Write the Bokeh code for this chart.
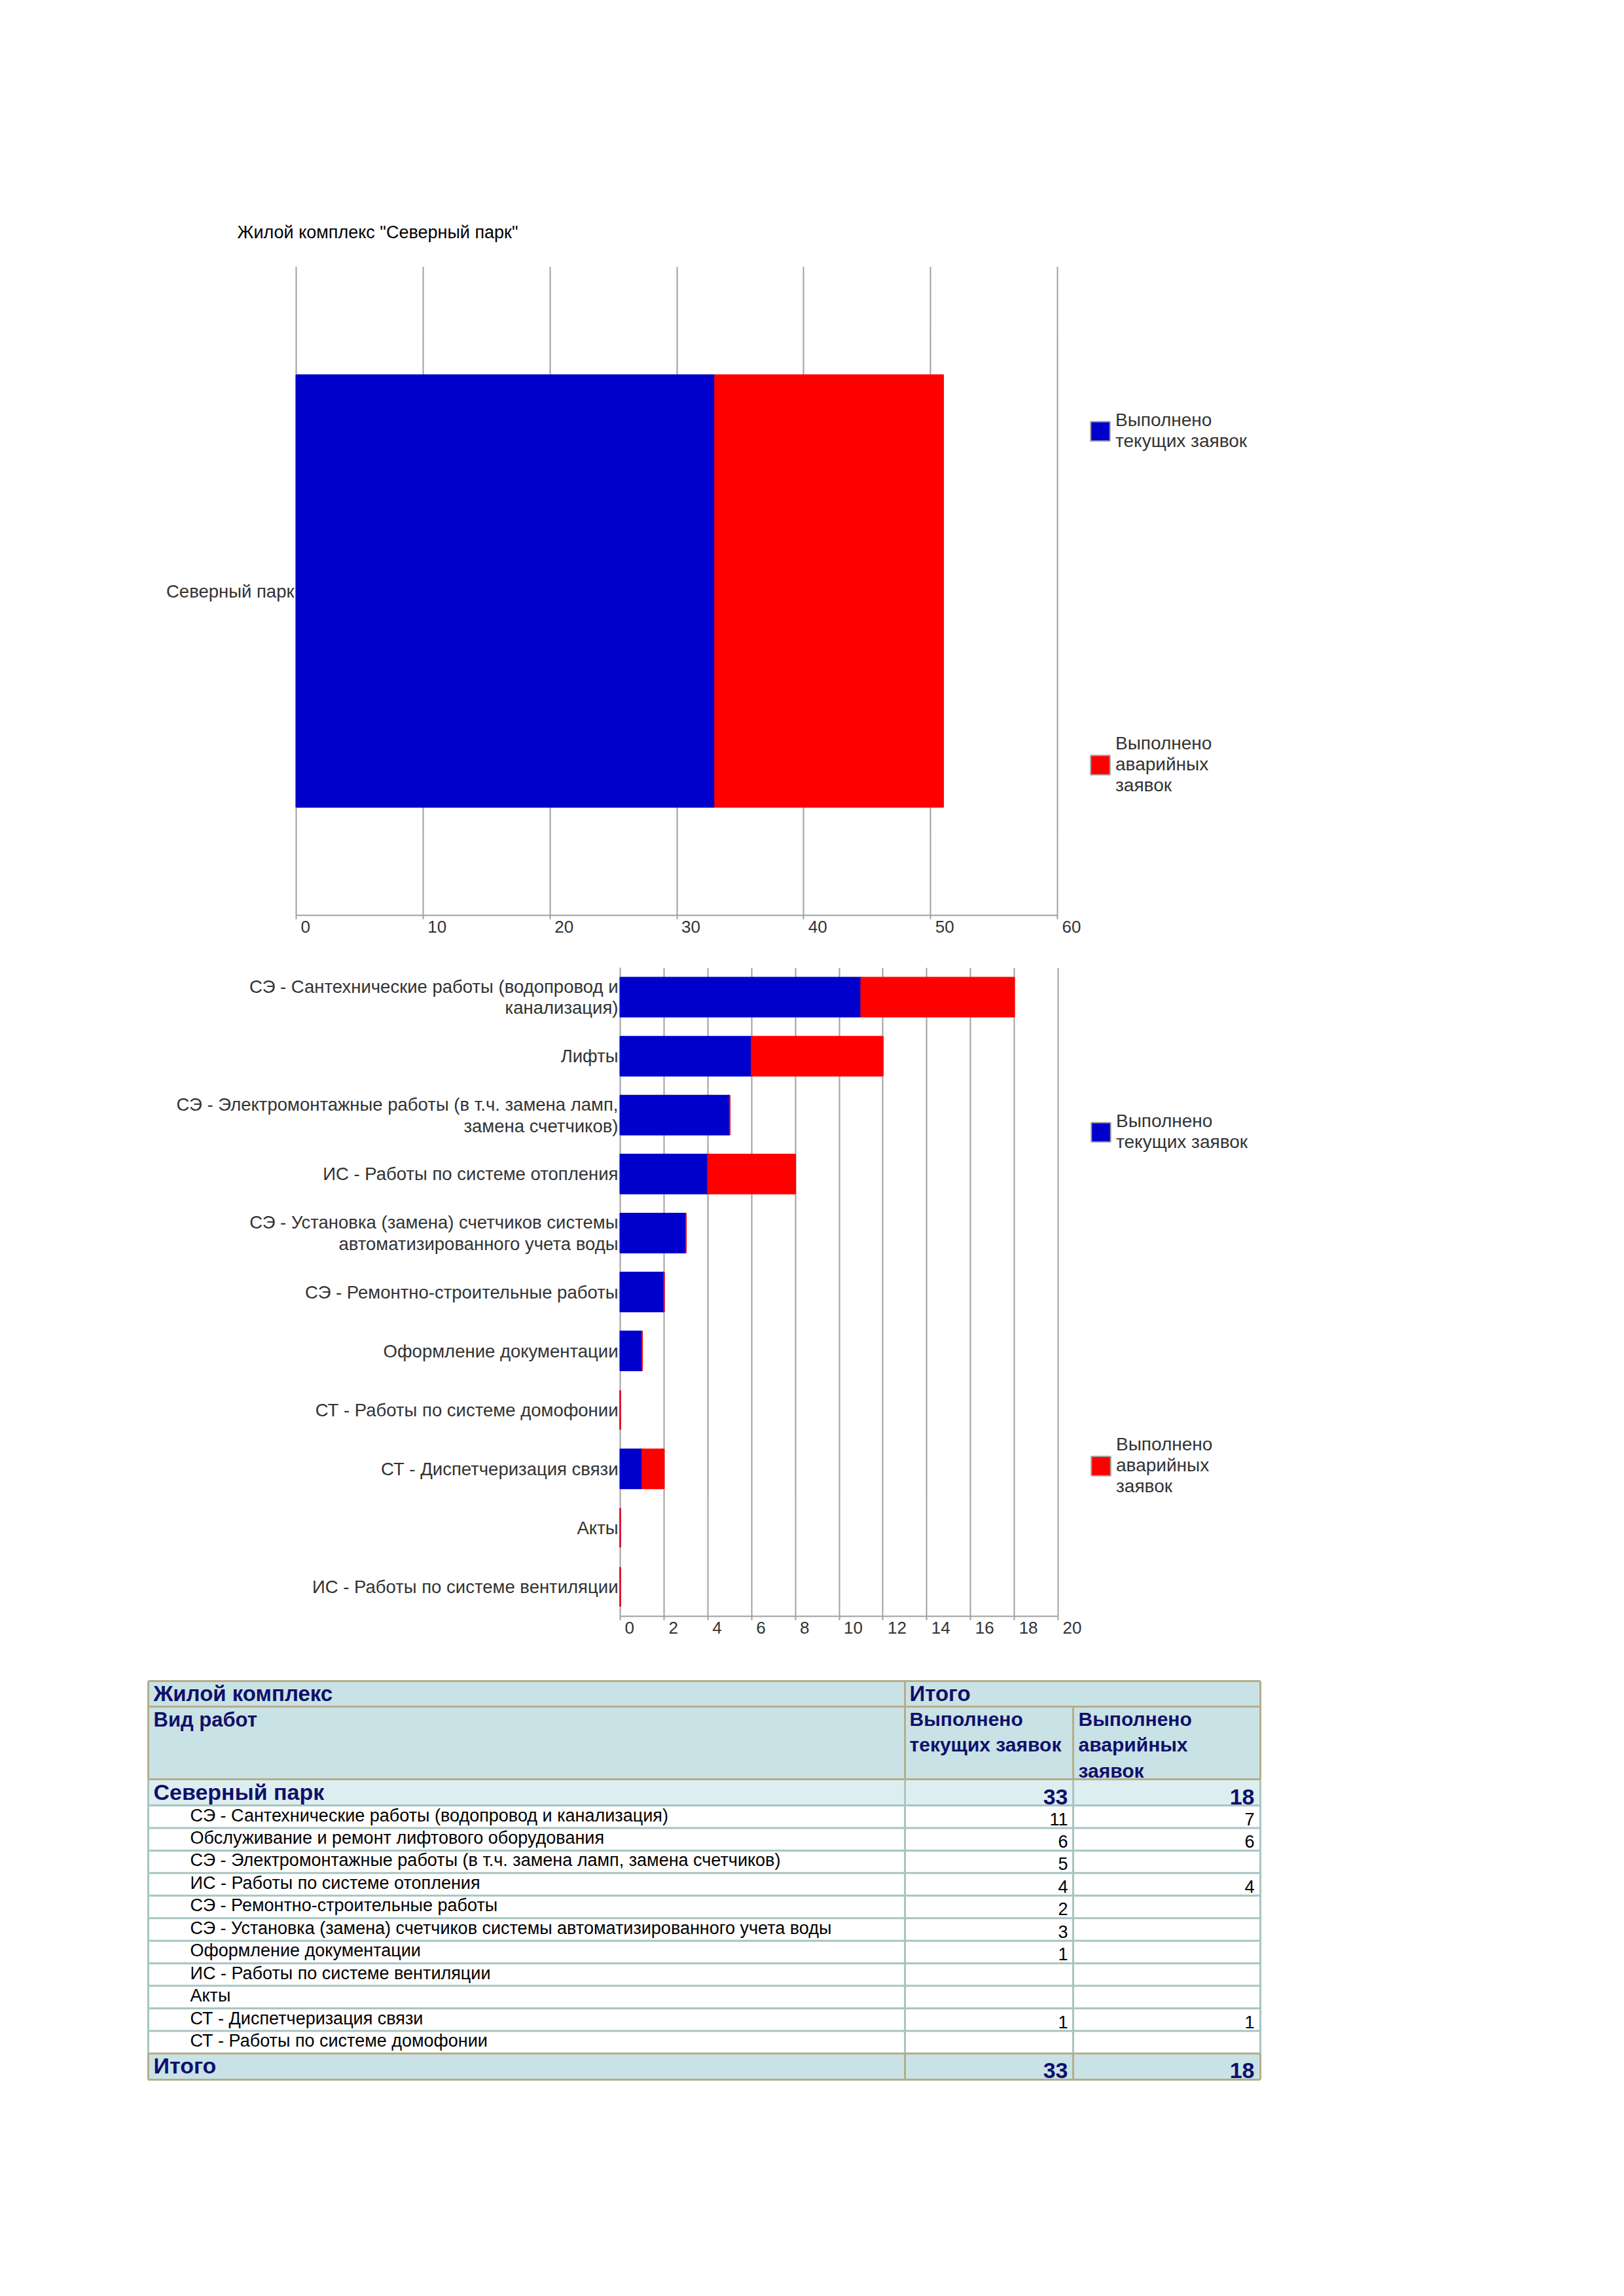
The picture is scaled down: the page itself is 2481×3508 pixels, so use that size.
from bokeh.plotting import figure
from bokeh.models import (FactorRange, Range1d, FixedTicker, LinearAxis, Legend, LegendItem)
from bokeh.embed import file_html
from bokeh.resources import INLINE
from bokeh.core.properties import value

# ---------------- data ----------------
chart_title = 'Жилой комплекс "Северный парк"'
series_names = ["Выполнено\nтекущих заявок", "Выполнено\nаварийных\nзаявок"]

complex_names = ["Северный парк"]
complex_current = [33]
complex_emergency = [18]
complex_ticks = [0, 10, 20, 30, 40, 50, 60]

work_types = [
    "СЭ - Сантехнические работы (водопровод и\nканализация)",
    "Лифты",
    "СЭ - Электромонтажные работы (в т.ч. замена ламп,\nзамена счетчиков)",
    "ИС - Работы по системе отопления",
    "СЭ - Установка (замена) счетчиков системы\nавтоматизированного учета воды",
    "СЭ - Ремонтно-строительные работы",
    "Оформление документации",
    "СТ - Работы по системе домофонии",
    "СТ - Диспетчеризация связи",
    "Акты",
    "ИС - Работы по системе вентиляции",
]
work_current = [11, 6, 5, 4, 3, 2, 1, 0, 1, 0, 0]
work_emergency = [7, 6, 0, 4, 0, 0, 0, 0, 1, 0, 0]
work_ticks = [0, 2, 4, 6, 8, 10, 12, 14, 16, 18, 20]

table_head_1 = ["Жилой комплекс", "Итого"]
table_head_2 = ["Вид работ", ["Выполнено", "текущих заявок"], ["Выполнено", "аварийных", "заявок"]]
table_group = "Северный парк"
table_total_label = "Итого"
table_rows = [
    "СЭ - Сантехнические работы (водопровод и канализация)",
    "Обслуживание и ремонт лифтового оборудования",
    "СЭ - Электромонтажные работы (в т.ч. замена ламп, замена счетчиков)",
    "ИС - Работы по системе отопления",
    "СЭ - Ремонтно-строительные работы",
    "СЭ - Установка (замена) счетчиков системы автоматизированного учета воды",
    "Оформление документации",
    "ИС - Работы по системе вентиляции",
    "Акты",
    "СТ - Диспетчеризация связи",
    "СТ - Работы по системе домофонии",
]
table_current = [11, 6, 5, 4, 2, 3, 1, None, None, 1, None]
table_emergency = [7, 6, None, 4, None, None, None, None, None, 1, None]

# ---------------- style ----------------
FONT = "Liberation Sans"
BLUE = "#0000CC"
RED = "#FF0000"
GRAY = "#A0A0A0"
TXT = "#333333"
NAVY = "#10106B"
HEAD_BG = "#C9E2E5"
GROUP_BG = "#DDEEF0"
TAN = "#B5AD88"
GRID = "#A7C5C1"
W = 2200


def make_chart(cats, cur, emg, ticks, plot_w, frame_h, b_left, b_top, b_bottom, title=None):
    xmax = ticks[-1]
    fw = W - b_left                      # frame also holds the legend area on the right
    px_per_unit = plot_w / xmax
    p = figure(y_range=FactorRange(factors=list(reversed(cats))),
               x_range=Range1d(0, fw / px_per_unit),
               frame_width=fw, frame_height=frame_h,
               min_border_left=b_left, min_border_right=0,
               min_border_top=b_top, min_border_bottom=b_bottom,
               toolbar_location=None, output_backend="svg", outline_line_color=None)
    p.ygrid.visible = False
    p.xgrid.ticker = FixedTicker(ticks=ticks)
    p.xgrid.grid_line_color = GRAY
    p.xgrid.grid_line_width = 2

    ax = p.xaxis[0]
    ax.ticker = FixedTicker(ticks=ticks)
    ax.bounds = (0, xmax)
    ax.axis_line_color = GRAY
    ax.axis_line_width = 2
    ax.major_tick_line_color = GRAY
    ax.major_tick_line_width = 2
    ax.major_tick_out = 6
    ax.major_tick_in = 0
    ax.minor_tick_line_color = None
    ax.major_label_text_font_size = "0px"
    ax.major_label_text_alpha = 0
    ax.major_label_standoff = 0

    # label axis: labels left-aligned just right of each tick, as in the original
    shifted, overrides = [], {}
    for t in ticks:
        v = round(t + (7 + 7.25 * len(str(t))) / px_per_unit, 4)
        shifted.append(v)
        overrides[v] = str(t)
    lab_axis = LinearAxis(ticker=FixedTicker(ticks=shifted), major_label_overrides=overrides,
                          axis_line_color=None, major_tick_line_color=None,
                          minor_tick_line_color=None, major_tick_out=0, major_tick_in=0,
                          major_label_standoff=2, major_label_text_font=FONT,
                          major_label_text_font_size="26px", major_label_text_color=TXT)
    p.add_layout(lab_axis, "below")

    ya = p.yaxis[0]
    ya.axis_line_color = GRAY
    ya.axis_line_width = 2
    ya.major_tick_line_color = None
    ya.minor_tick_line_color = None
    ya.major_label_standoff = -3
    ya.major_label_text_font = FONT
    ya.major_label_text_font_size = "27.5px"
    ya.major_label_text_color = TXT
    ya.major_label_text_line_height = 1.05

    data = dict(cat=cats, cur=cur, emg=emg)
    bars = p.hbar_stack(["cur", "emg"], y="cat", height=0.666, color=[BLUE, RED],
                        line_width=2, source=data)
    for b in bars:
        b.level = "annotation"

    if title:
        p.title.text = title
        p.title.text_font = FONT
        p.title.text_font_size = "27px"
        p.title.text_font_style = "normal"
        p.title.text_color = "black"
        p.title.align = "left"
        p.title.offset = -90
        p.title.standoff = 75

    # legends, one per series, spread as in the original
    for name, col, ypos in [(series_names[0], BLUE, 708), (series_names[1], RED, 182)]:
        # legend swatch renderer: one bar outside the visible x range (only its swatch shows)
        swatch = p.hbar(y=[cats[0]], left=[-30], right=[-20], height=0.5,
                        fill_color=col, line_color=GRAY, line_width=2)
        leg = Legend(items=[LegendItem(label=name, renderers=[swatch])],
                     location=(plot_w + 47, ypos), glyph_width=37, glyph_height=37,
                     label_standoff=5, padding=0, margin=0, border_line_color=None,
                     background_fill_alpha=0, label_text_font=FONT,
                     label_text_font_size="28px", label_text_color=TXT,
                     label_text_line_height=1.15)
        p.add_layout(leg)
    return p


p1 = make_chart(complex_names, complex_current, complex_emergency, complex_ticks,
                1163, 991, 452, 407, 62, title=chart_title)
p2 = make_chart(work_types, work_current, work_emergency, work_ticks,
                669, 991, 947, 18, 60)

# ---------------- table ----------------
T_TOP = 2529
T_H = 671
t = figure(width=W, height=T_H, x_range=Range1d(0, W), y_range=Range1d(T_TOP + T_H, T_TOP),
           toolbar_location=None, output_backend="svg", min_border=0,
           x_axis_location=None, y_axis_location=None, outline_line_color=None)
t.xgrid.visible = False
t.ygrid.visible = False

c0, c1, c2, c3 = 226, 1382, 1639, 1925
r0, r1, r2, r3 = 2568, 2607, 2718, 2758
row_h = 34.45
n = len(table_rows)
r_tot = r3 + n * row_h
r_end = r_tot + 40

# backgrounds
t.quad(left=[c0, c0, c0, c0], right=[c3, c3, c3, c3], top=[r0, r1, r2, r_tot],
       bottom=[r1, r2, r3, r_end], fill_color=[HEAD_BG, HEAD_BG, GROUP_BG, HEAD_BG], line_color=None)

# grid lines in body
ys = [r3 + i * row_h for i in range(1, n)] + [r3 + 0.0]
t.segment(x0=[c0] * len(ys), x1=[c3] * len(ys), y0=ys, y1=ys, line_color=GRID, line_width=3)
t.segment(x0=[c1, c2, c0, c3], x1=[c1, c2, c0, c3], y0=[r2] * 4, y1=[r_tot] * 4,
          line_color=GRID, line_width=3)
# header / total borders (tan)
hx0 = [c0, c0, c0, c0, c0, c0, c0, c3, c1, c2, c3, c1, c2]
hx1 = [c3, c3, c3, c3, c3, c0, c0, c3, c1, c2, c3, c1, c2]
hy0 = [r0, r1, r2, r_tot, r_end, r0, r_tot, r0, r0, r1, r_tot, r_tot, r_tot]
hy1 = [r0, r1, r2, r_tot, r_end, r2, r_end, r2, r2, r2, r_end, r_end, r_end]
t.segment(x0=hx0, x1=hx1, y0=hy0, y1=hy1, line_color=TAN, line_width=3)

f = value(FONT)
# header texts
t.text(x=[c0 + 8, c1 + 7], y=[r0 + 37, r0 + 37], text=table_head_1, text_font=f,
       text_font_size="33px", text_font_style="bold", text_color=NAVY)
t.text(x=[c0 + 8], y=[r1 + 37], text=[table_head_2[0]], text_font=f,
       text_font_size="31px", text_font_style="bold", text_color=NAVY)
for lines, x0 in [(table_head_2[1], c1 + 7), (table_head_2[2], c2 + 8)]:
    t.text(x=[x0] * len(lines), y=[r1 + 35 + 39.5 * i for i in range(len(lines))], text=lines,
           text_font=f, text_font_size="30px", text_font_style="bold", text_color=NAVY)

tot_cur = sum(v for v in table_current if v)
tot_emg = sum(v for v in table_emergency if v)
for yb, lab in [(r3 - 2, table_group), (r_end - 2, table_total_label)]:
    t.text(x=[c0 + 8], y=[yb], text=[lab], text_font=f, text_font_size="34px",
           text_font_style="bold", text_color=NAVY)
    t.text(x=[c2 - 8, c3 - 9], y=[yb, yb], text=[str(tot_cur), str(tot_emg)], text_font=f,
           text_font_size="34px", text_font_style="bold", text_color=NAVY, text_align="right")

# body rows
ybase = [r3 + i * row_h + 30 for i in range(n)]
t.text(x=[290] * n, y=ybase, text=table_rows, text_font=f, text_font_size="27px",
       text_color="black")
cx, cy, ct = [], [], []
for i in range(n):
    if table_current[i] is not None:
        cx.append(c2 - 8); cy.append(ybase[i]); ct.append(str(table_current[i]))
    if table_emergency[i] is not None:
        cx.append(c3 - 9); cy.append(ybase[i]); ct.append(str(table_emergency[i]))
t.text(x=cx, y=cy, text=ct, text_font=f, text_font_size="27px", text_color="black",
       text_align="right")

# separate roots, stacked vertically without frame alignment
p = [p1, p2, t]
open("out.html", "w").write(file_html(p, INLINE))
